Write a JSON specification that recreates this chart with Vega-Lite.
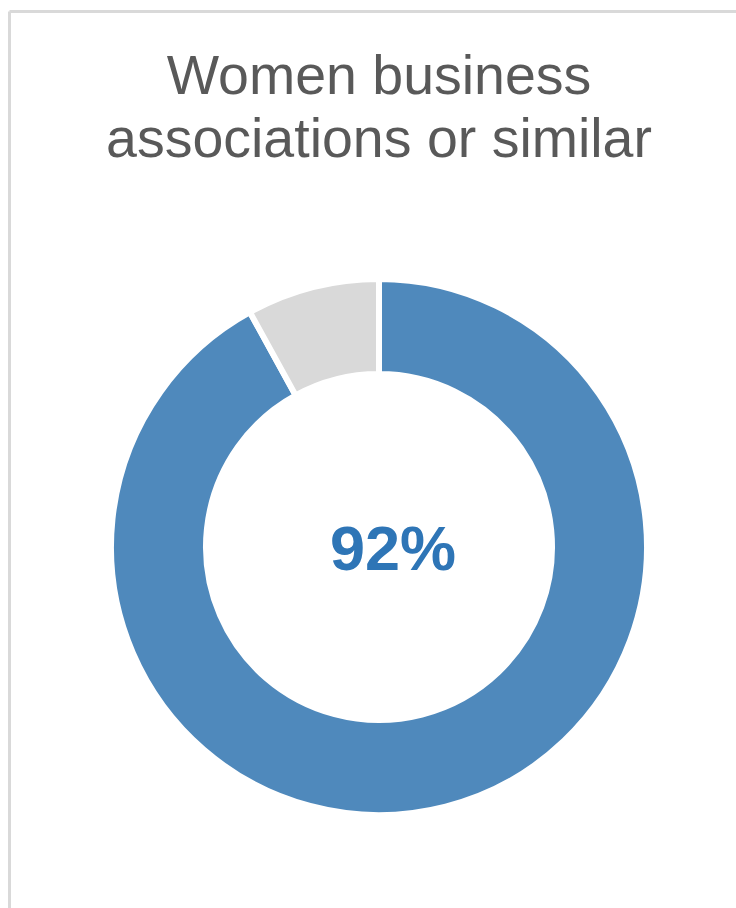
{
  "$schema": "https://vega.github.io/schema/vega-lite/v6.json",
  "width": 739,
  "height": 1071,
  "autosize": {"type": "none"},
  "padding": {"left": 9.5, "top": 11.5, "right": -12.5, "bottom": -174.5},
  "background": "white",
  "view": {
    "stroke": "#D9D9D9",
    "strokeWidth": 3,
    "strokeDash": [739, 1810, 1071, 0],
    "cornerRadius": 0
  },
  "title": {
    "text": ["Women business", "associations or similar"],
    "font": "Liberation Sans",
    "fontSize": 55.5,
    "fontWeight": "normal",
    "color": "#595959",
    "lineHeight": 63,
    "anchor": "middle",
    "frame": "group",
    "orient": "top",
    "baseline": "top",
    "offset": -157
  },
  "data": {
    "values": [
      {"category": "Yes", "value": 0.92},
      {"category": "No", "value": 0.08}
    ]
  },
  "layer": [
    {
      "mark": {"type": "arc", "radius": 268, "radius2": 173, "stroke": "white", "strokeWidth": 6},
      "encoding": {
        "theta": {"field": "value", "type": "quantitative", "stack": true},
        "order": {"field": "value", "type": "quantitative", "sort": "descending"},
        "color": {
          "field": "category",
          "type": "nominal",
          "scale": {"domain": ["Yes", "No"], "range": ["#4F89BC", "#D9D9D9"]},
          "legend": null
        }
      }
    },
    {
      "transform": [{"filter": "datum.category === 'Yes'"}],
      "mark": {
        "type": "text",
        "font": "Liberation Sans",
        "fontSize": 63,
        "fontWeight": "bold",
        "color": "#2E75B6",
        "align": "center",
        "baseline": "middle",
        "dx": 14,
        "dy": 4
      },
      "encoding": {
        "text": {"field": "value", "type": "quantitative", "format": ".0%"}
      }
    }
  ]
}
